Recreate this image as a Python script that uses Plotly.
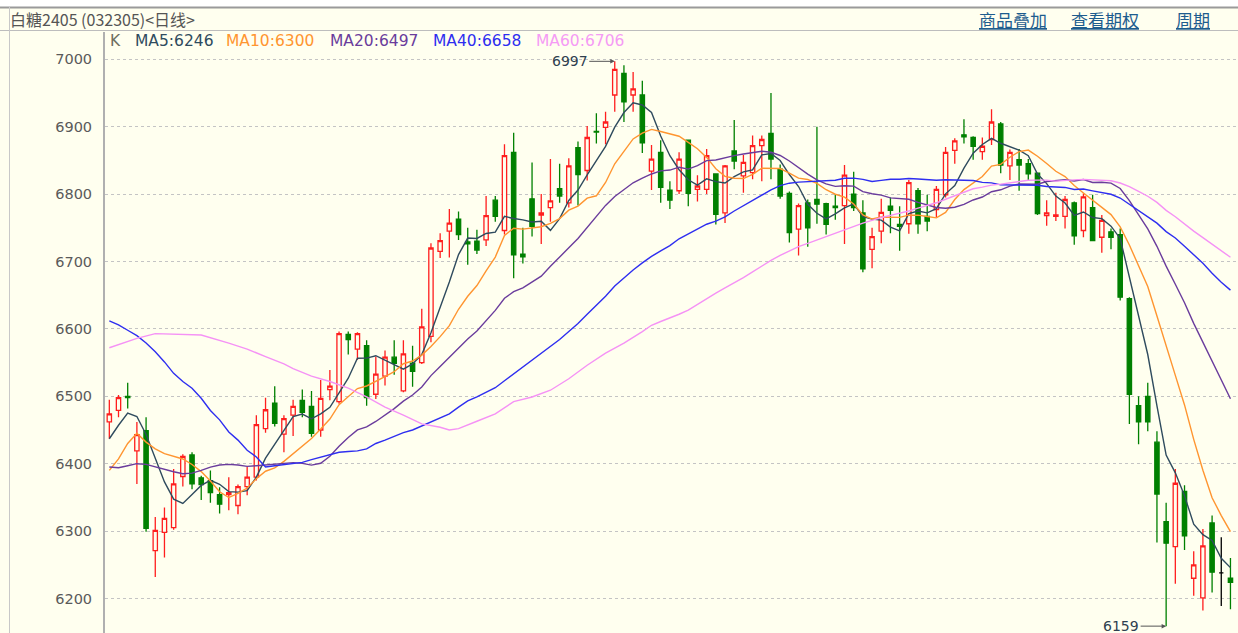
import numpy as np
import pandas as pd
import plotly.graph_objects as go

# ---------------- data ----------------
opens = [6462, 6479, 6500, 6419, 6449, 6271, 6298, 6305, 6381, 6413,
         6379, 6375, 6354, 6354, 6338, 6366, 6380, 6452, 6490, 6444,
         6472, 6494, 6485, 6450, 6510, 6492, 6592, 6570, 6575, 6503,
         6530, 6558, 6508, 6549, 6550, 6589, 6715, 6745, 6763, 6729,
         6730, 6732, 6791, 6746, 6862, 6711, 6793, 6769, 6780, 6808,
         6787, 6869, 6835, 6893, 6899, 6947, 6979, 6947, 6947, 6834,
         6862, 6806, 6805, 6880, 6807, 6807, 6830, 6772, 6864, 6827,
         6832, 6872, 6890, 6837, 6801, 6748, 6787, 6792, 6786, 6782,
         6783, 6800, 6772, 6718, 6745, 6782, 6755, 6756, 6805, 6767,
         6777, 6799, 6865, 6888, 6884, 6863, 6881, 6904, 6842, 6851,
         6845, 6831, 6768, 6767, 6767, 6787, 6746, 6780, 6736, 6744,
         6740, 6645, 6486, 6500, 6432, 6314, 6277, 6359, 6230, 6201,
         6312, 6238, 6230]
highs = [6495, 6502, 6520, 6462, 6469, 6321, 6335, 6392, 6414, 6417,
         6382, 6390, 6365, 6380, 6369, 6395, 6472, 6498, 6515, 6472,
         6495, 6510, 6508, 6524, 6539, 6596, 6596, 6595, 6583, 6559,
         6568, 6583, 6583, 6575, 6630, 6727, 6742, 6778, 6774, 6750,
         6747, 6797, 6797, 6874, 6891, 6750, 6847, 6800, 6852, 6845,
         6853, 6878, 6901, 6920, 6922, 6997, 6991, 6981, 6968, 6873,
         6880, 6819, 6862, 6881, 6828, 6867, 6831, 6843, 6910, 6858,
         6887, 6887, 6950, 6844, 6804, 6786, 6792, 6900, 6787, 6800,
         6843, 6833, 6791, 6750, 6793, 6795, 6782, 6821, 6809, 6799,
         6812, 6870, 6883, 6911, 6886, 6884, 6926, 6907, 6866, 6867,
         6852, 6832, 6791, 6802, 6797, 6789, 6801, 6799, 6769, 6749,
         6749, 6647, 6500, 6520, 6448, 6342, 6392, 6368, 6270, 6303,
         6323, 6291, 6260]
lows = [6437, 6469, 6482, 6370, 6299, 6232, 6261, 6302, 6366, 6362,
        6346, 6342, 6326, 6331, 6325, 6353, 6375, 6446, 6455, 6417,
        6441, 6469, 6440, 6440, 6494, 6489, 6562, 6554, 6486, 6496,
        6516, 6532, 6506, 6514, 6548, 6580, 6705, 6706, 6732, 6695,
        6711, 6723, 6759, 6740, 6675, 6697, 6737, 6726, 6759, 6787,
        6780, 6783, 6820, 6875, 6874, 6922, 6907, 6922, 6861, 6806,
        6787, 6778, 6800, 6782, 6789, 6800, 6755, 6757, 6837, 6802,
        6822, 6819, 6822, 6793, 6728, 6709, 6722, 6756, 6740, 6762,
        6726, 6775, 6684, 6690, 6727, 6742, 6716, 6741, 6741, 6745,
        6766, 6795, 6845, 6875, 6851, 6851, 6873, 6831, 6821, 6805,
        6821, 6769, 6753, 6760, 6749, 6725, 6736, 6731, 6713, 6718,
        6642, 6459, 6429, 6448, 6283, 6159, 6222, 6272, 6204, 6182,
        6209, 6189, 6184]
closes = [6474, 6498, 6498, 6443, 6304, 6301, 6319, 6370, 6411, 6370,
          6369, 6357, 6340, 6357, 6366, 6380, 6458, 6480, 6460, 6467,
          6485, 6476, 6445, 6497, 6515, 6593, 6584, 6593, 6498, 6533,
          6558, 6549, 6563, 6537, 6603, 6720, 6731, 6757, 6740, 6726,
          6717, 6768, 6767, 6857, 6710, 6707, 6752, 6772, 6790, 6797,
          6842, 6829, 6884, 6892, 6907, 6985, 6937, 6956, 6876, 6852,
          6810, 6791, 6852, 6801, 6812, 6857, 6770, 6842, 6849, 6847,
          6872, 6881, 6852, 6797, 6743, 6783, 6750, 6785, 6755, 6780,
          6828, 6780, 6689, 6737, 6773, 6776, 6752, 6817, 6756, 6760,
          6807, 6862, 6879, 6885, 6871, 6871, 6907, 6843, 6862, 6843,
          6830, 6771, 6772, 6769, 6792, 6738, 6796, 6731, 6761, 6736,
          6647, 6503, 6462, 6462, 6355, 6282, 6371, 6293, 6250, 6278,
          6239, 6238, 6224]

# moving-average values read off the picture where the window reaches
# back before the first visible candle
ma5_head = [6437, 6457, 6475, 6470]
ma10_head = [6390, 6407, 6430, 6445, 6432, 6422, 6415, 6411, 6407]
ma20_head = [6395, 6394, 6397, 6400, 6399, 6395, 6391, 6388, 6385, 6386,
             6390, 6395, 6398, 6399, 6398, 6396, 6397, 6398, 6400]
ma40_head = [6612, 6606, 6598, 6590, 6579, 6566, 6551, 6534, 6522, 6512,
             6497, 6479, 6465, 6447, 6435, 6420, 6410, 6395, 6397, 6399,
             6400, 6402, 6406, 6410, 6414, 6417, 6418, 6419, 6422, 6430,
             6435, 6441, 6446, 6450, 6456, 6462, 6467, 6474, 6484]
ma60_head_idx = [0, 3, 5, 8, 10, 13, 15, 17, 19, 20, 22, 24, 26, 28, 30,
                 32, 34, 36, 37, 38, 39, 40, 42, 44, 46, 48, 50, 52, 54,
                 56, 58]
ma60_head = [6572, 6586, 6593, 6592, 6591, 6579, 6570, 6559, 6548, 6541,
             6530, 6522, 6512, 6499, 6484, 6472, 6459, 6454, 6450, 6452,
             6457, 6463, 6474, 6492, 6499, 6509, 6526, 6546, 6564, 6579,
             6596]

y_ticks = [6200, 6300, 6400, 6500, 6600, 6700, 6800, 6900, 7000]
title_text = "白糖2405 (032305)&lt;日线&gt;"
links = ["商品叠加", "查看期权", "周期"]
legend_items = ["K", "MA5:6246", "MA10:6300", "MA20:6497", "MA40:6658", "MA60:6706"]
hi_label, hi_idx, hi_val = "6997", 55, 6997
lo_label, lo_idx, lo_val = "6159", 115, 6159

# ---------------- styling ----------------
BG = "#FFFFEF"
RED = "#FF1E1E"
GREEN = "#008000"
MA_COLORS = ["#2F4B5E", "#FF9530", "#6A3C9C", "#2E2EF0", "#F592F5"]
LEGEND_COLORS = ["#6E6E60"] + MA_COLORS[:4] + ["#F59BF5"]
legend_x = [108, 133, 224, 328, 431, 534]
link_x = [977, 1069, 1174]

W, H = 1238, 633
L, R, T, B = 105, 0, 32, 0
PW, PH = W - L - R, H - T - B


def px(x):
    return (x - L) / PW


def py(y):
    return 1 - (y - T) / PH


n = len(closes)
idx = np.arange(n)
o = np.array(opens); h = np.array(highs); lo_ = np.array(lows); c = np.array(closes)
inc = c > o
dec = c < o
flat = c == o

fig = go.Figure()


def add_candles(mask, line_col, fill_col):
    fig.add_trace(go.Candlestick(
        x=idx[mask], open=o[mask], high=h[mask], low=lo_[mask], close=c[mask],
        increasing=dict(line=dict(color=line_col, width=1.3), fillcolor=fill_col),
        decreasing=dict(line=dict(color=line_col, width=1.3), fillcolor=fill_col),
        whiskerwidth=0, showlegend=False, hoverinfo="skip"))


add_candles(inc, RED, BG)
add_candles(dec, GREEN, GREEN)
add_candles(flat, "#000000", "#000000")

s = pd.Series(closes, dtype=float)


def ma_series(window, head_idx, head_vals):
    roll = s.rolling(window).mean()
    xs = list(head_idx) + list(range(window - 1, n))
    ys = list(head_vals) + list(roll.iloc[window - 1:])
    return xs, ys


ma_defs = [
    (5, list(range(4)), ma5_head),
    (10, list(range(9)), ma10_head),
    (20, list(range(19)), ma20_head),
    (40, list(range(39)), ma40_head),
    (60, ma60_head_idx, ma60_head),
]
for (win, hidx, hvals), col in zip(ma_defs, MA_COLORS):
    xs, ys = ma_series(win, hidx, hvals)
    fig.add_trace(go.Scatter(x=xs, y=ys, mode="lines",
                             line=dict(color=col, width=1.4),
                             showlegend=False, hoverinfo="skip"))

annotations = []
annotations.append(dict(xref="paper", yref="paper", x=px(8), y=py(19),
                        xanchor="left", yanchor="middle", showarrow=False,
                        text=title_text,
                        font=dict(family="Noto Sans CJK SC", size=16, color="#555555")))
for t, xx in zip(links, link_x):
    annotations.append(dict(xref="paper", yref="paper", x=px(xx), y=py(19),
                            xanchor="left", yanchor="middle", showarrow=False,
                            text="<u>" + t + "</u>",
                            font=dict(family="Noto Sans CJK SC", size=17, color="#1D5C8E")))
for t, xx, col in zip(legend_items, legend_x, LEGEND_COLORS):
    annotations.append(dict(xref="paper", yref="paper", x=px(xx), y=py(41),
                            xanchor="left", yanchor="middle", showarrow=False,
                            text=t,
                            font=dict(family="DejaVu Sans", size=15.5, color=col)))
for lab, xi, yv in [(hi_label, hi_idx, hi_val), (lo_label, lo_idx, lo_val)]:
    annotations.append(dict(xref="x", yref="y", x=xi, y=yv, text=lab,
                            showarrow=True, ax=-45, ay=0, arrowhead=2,
                            arrowsize=0.9, arrowwidth=1, arrowcolor="#555555",
                            standoff=0,
                            font=dict(family="DejaVu Sans", size=14, color="#2F3F4F")))

shapes = [
    dict(type="rect", xref="paper", yref="paper", x0=px(0), x1=px(W), y0=py(0), y1=py(7),
         fillcolor="#FFFFFF", line=dict(width=0), layer="below"),
    dict(type="line", xref="paper", yref="paper", x0=px(0), x1=px(W), y0=py(7.5), y1=py(7.5),
         line=dict(color="#9A9A9A", width=2)),
    dict(type="line", xref="paper", yref="paper", x0=px(0), x1=px(W), y0=py(30.5), y1=py(30.5),
         line=dict(color="#BDBDBD", width=1)),
    dict(type="line", xref="paper", yref="paper", x0=px(9.5), x1=px(9.5), y0=py(7), y1=py(H),
         line=dict(color="#C8C8C8", width=1)),
]

fig.update_layout(
    width=W, height=H, autosize=False,
    margin=dict(l=L, r=R, t=T, b=B, pad=0),
    paper_bgcolor=BG, plot_bgcolor=BG,
    boxgap=0.33,
    annotations=annotations, shapes=shapes,
    showlegend=False,
    xaxis=dict(range=[-0.47, 122.82], visible=False, rangeslider=dict(visible=False),
               showgrid=False, zeroline=False),
    yaxis=dict(range=[6148.8, 7040.5], tickvals=y_ticks, ticktext=[str(v) for v in y_ticks],
               showgrid=True, gridcolor="#C4C4C4", griddash="dot", gridwidth=1,
               zeroline=False, showline=True, linecolor="#B0B0B0", linewidth=2,
               ticks="", ticklabelstandoff=8,
               tickfont=dict(family="DejaVu Sans", size=14.5, color="#5A5A5A")),
)

fig.write_html("out.html", config={"displayModeBar": False},
               post_script="document.body.style.margin='0';document.body.style.overflow='hidden';")
